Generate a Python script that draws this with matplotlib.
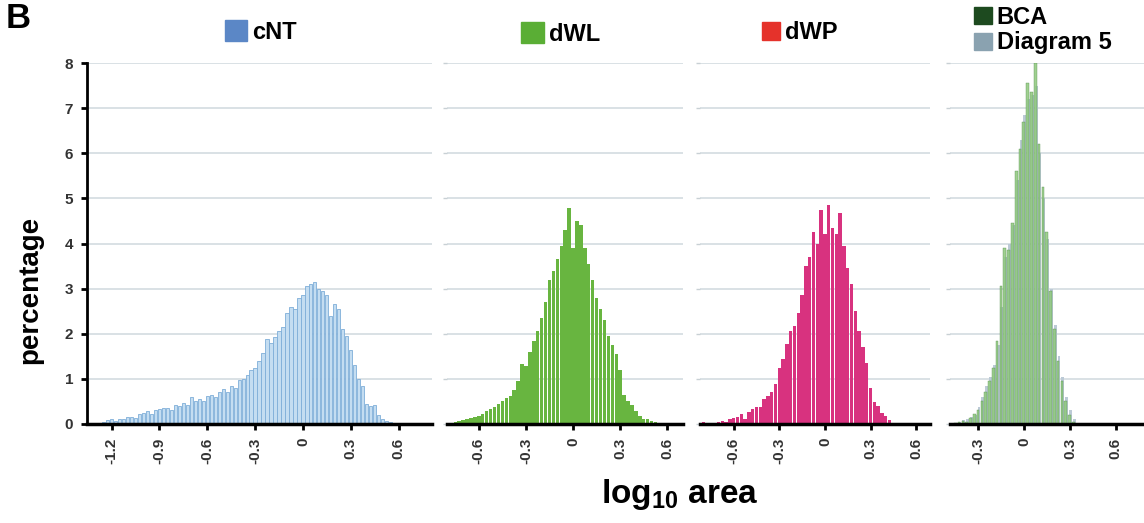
import numpy as np
import matplotlib
matplotlib.use("Agg")
import matplotlib.pyplot as plt
from matplotlib.patches import Patch

plt.rcParams['font.family'] = ['Liberation Sans', 'DejaVu Sans']
plt.rcParams['mathtext.default'] = 'regular'

# histogram data (percentage per bin), bins of 0.025 log10 units
step = 0.025

cnt_start = -1.300
cnt_vals = [0.02, 0.03, 0.05, 0.08, 0.10, 0.06, 0.12, 0.10, 0.15, 0.16,
            0.14, 0.22, 0.25, 0.28, 0.22, 0.30, 0.33, 0.35, 0.36, 0.30,
            0.42, 0.40, 0.47, 0.43, 0.60, 0.50, 0.55, 0.50, 0.62, 0.65,
            0.60, 0.72, 0.78, 0.70, 0.85, 0.80, 0.98, 1.00, 1.08, 1.20,
            1.25, 1.40, 1.58, 1.88, 1.80, 1.92, 2.05, 2.15, 2.45, 2.60,
            2.55, 2.80, 2.85, 3.05, 3.10, 3.15, 3.00, 2.95, 2.85, 2.40,
            2.65, 2.55, 2.10, 1.95, 1.65, 1.30, 1.00, 0.85, 0.45, 0.40,
            0.42, 0.20, 0.12, 0.07, 0.04, 0.02, 0.01]

dwl_start = -0.775
dwl_vals = [0.02, 0.04, 0.07, 0.08, 0.11, 0.13, 0.16, 0.18, 0.22, 0.28,
            0.33, 0.38, 0.45, 0.50, 0.58, 0.63, 0.75, 0.95, 1.32, 1.28,
            1.60, 1.85, 2.05, 2.35, 2.70, 3.20, 3.40, 3.65, 3.95, 4.30,
            4.78, 3.90, 4.50, 4.40, 3.90, 3.55, 3.20, 2.80, 2.55, 2.30,
            1.95, 1.75, 1.55, 1.20, 0.65, 0.50, 0.42, 0.28, 0.18, 0.12,
            0.11, 0.07, 0.05, 0.02]

dwp_start = -0.800
dwp_vals = [0.04, 0.02, 0.03, 0.02, 0.04, 0.06, 0.05, 0.10, 0.14, 0.15,
            0.22, 0.12, 0.27, 0.33, 0.37, 0.38, 0.55, 0.62, 0.70, 0.88,
            1.25, 1.45, 1.78, 2.05, 2.18, 2.45, 2.85, 3.50, 3.70, 4.25,
            4.00, 4.75, 4.20, 4.85, 4.35, 4.20, 4.68, 3.95, 3.45, 3.10,
            2.50, 2.05, 1.70, 1.35, 0.80, 0.48, 0.40, 0.25, 0.18, 0.08,
            0.03, 0.02, 0.01]

bca_start = -0.450
bca_vals = [0.02, 0.04, 0.06, 0.05, 0.14, 0.22, 0.30, 0.50, 0.72, 0.95,
            1.25, 1.85, 3.05, 3.90, 3.85, 4.45, 5.60, 6.10, 6.70, 7.55,
            7.35, 8.00, 6.20, 5.25, 4.25, 2.95, 2.10, 1.40, 0.95, 0.50,
            0.20, 0.05]
d5_vals = [0.03, 0.05, 0.08, 0.12, 0.15, 0.20, 0.38, 0.60, 0.85, 1.05,
           1.30, 1.75, 2.60, 3.70, 4.00, 4.40, 5.40, 6.30, 6.85, 7.20,
           7.30, 7.50, 6.00, 5.00, 4.10, 3.00, 2.20, 1.50, 1.05, 0.60,
           0.30, 0.10]

ticks_cnt = [-1.2, -0.9, -0.6, -0.3, 0, 0.3, 0.6]
ticks_dw = [-0.6, -0.3, 0, 0.3, 0.6]
ticks_bca = [-0.3, 0, 0.3, 0.6]


def centers(start, vals):
    return start + step * np.arange(len(vals))


fig = plt.figure(figsize=(11.44, 5.23), dpi=100)
bottom, height = 0.1893, 0.6902
ax1 = fig.add_axes([0.0760, bottom, 0.3016, height])
ax2 = fig.add_axes([0.3907, bottom, 0.2063, height])
ax3 = fig.add_axes([0.6119, bottom, 0.2010, height])
ax4 = fig.add_axes([0.8304, bottom, 0.1700, height])

ax1.bar(centers(cnt_start, cnt_vals), cnt_vals, width=step * 0.8,
        color='#c4ddf1', edgecolor='#7eaed8', linewidth=0.6)
ax2.bar(centers(dwl_start, dwl_vals), dwl_vals, width=step * 0.88,
        color='#68b540', linewidth=0)
ax3.bar(centers(dwp_start, dwp_vals), dwp_vals, width=step * 0.88,
        color='#d8327f', linewidth=0)
x4 = centers(bca_start, bca_vals)
ax4.bar(x4 + step * 0.15, d5_vals, width=step * 0.75,
        color='#bccad6', linewidth=0)
ax4.bar(x4 - step * 0.1, bca_vals, width=step * 0.7,
        color='#8fc87e', edgecolor='#4d8a45', linewidth=0.3, alpha=0.85)

panels = [(ax1, (-1.354, 0.809), ticks_cnt),
          (ax2, (-0.803, 0.700), ticks_dw),
          (ax3, (-0.822, 0.691), ticks_dw),
          (ax4, (-0.487, 0.789), ticks_bca)]

for i, (ax, lim, ticks) in enumerate(panels):
    ax.set_xlim(*lim)
    ax.set_ylim(0, 8)
    ax.set_facecolor('none')
    ax.set_axisbelow(True)
    ax.yaxis.grid(True, color='#d3dbe0', linewidth=1.2)
    ax.set_yticks(range(0, 9))
    ax.set_xticks(ticks)
    ax.set_xticklabels(['0' if t == 0 else f'{t:g}' for t in ticks],
                       rotation=90, fontsize=11, fontweight='bold',
                       color='#333333')
    ax.tick_params(axis='x', length=4, width=2, color='black', pad=6)
    for s in ['top', 'right']:
        ax.spines[s].set_visible(False)
    ax.spines['bottom'].set_linewidth(2.5)
    if i == 0:
        ax.spines['left'].set_linewidth(2)
        ax.tick_params(axis='y', length=4, width=2, pad=6)
        ax.set_yticklabels([str(v) for v in range(0, 9)], fontsize=11,
                           fontweight='bold', color='#333333')
    else:
        ax.spines['left'].set_visible(False)
        ax.tick_params(axis='y', length=3, width=1, color='#c8d0d4',
                       labelleft=False)

# panel titles drawn as legends
title_font = {'weight': 'bold', 'size': 17}
fig.legend(handles=[Patch(color='#5b87c6', label='cNT')], loc='center',
           bbox_to_anchor=(0.228, 0.939), frameon=False, prop=title_font,
           handlelength=0.95, handleheight=0.95, handletextpad=0.2)
fig.legend(handles=[Patch(color='#5aae35', label='dWL')], loc='center',
           bbox_to_anchor=(0.490, 0.935), frameon=False, prop=title_font,
           handlelength=0.95, handleheight=0.95, handletextpad=0.2)
fig.legend(handles=[Patch(color='#e5322b', label='dWP')], loc='center',
           bbox_to_anchor=(0.699, 0.937), frameon=False, prop=title_font,
           handlelength=0.8, handleheight=0.8, handletextpad=0.2)
fig.legend(handles=[Patch(color='#1d4a1f', label='BCA'),
                    Patch(color='#8aa2b0', label='Diagram 5')],
           loc='upper left', bbox_to_anchor=(0.833, 1.03), frameon=False,
           prop=title_font, handlelength=0.75, handleheight=0.75,
           handletextpad=0.2, labelspacing=0.12)

fig.text(0.005, 0.997, 'B', fontsize=25, fontweight='bold', va='top')
fig.text(0.026, 0.445, 'percentage', rotation=90, fontsize=20,
         fontweight='bold', ha='center', va='center')
fig.text(0.594, 0.055, 'log$_{10}$ area', fontsize=24, fontweight='bold',
         ha='center', va='center')

fig.savefig('out.png', dpi=100)
